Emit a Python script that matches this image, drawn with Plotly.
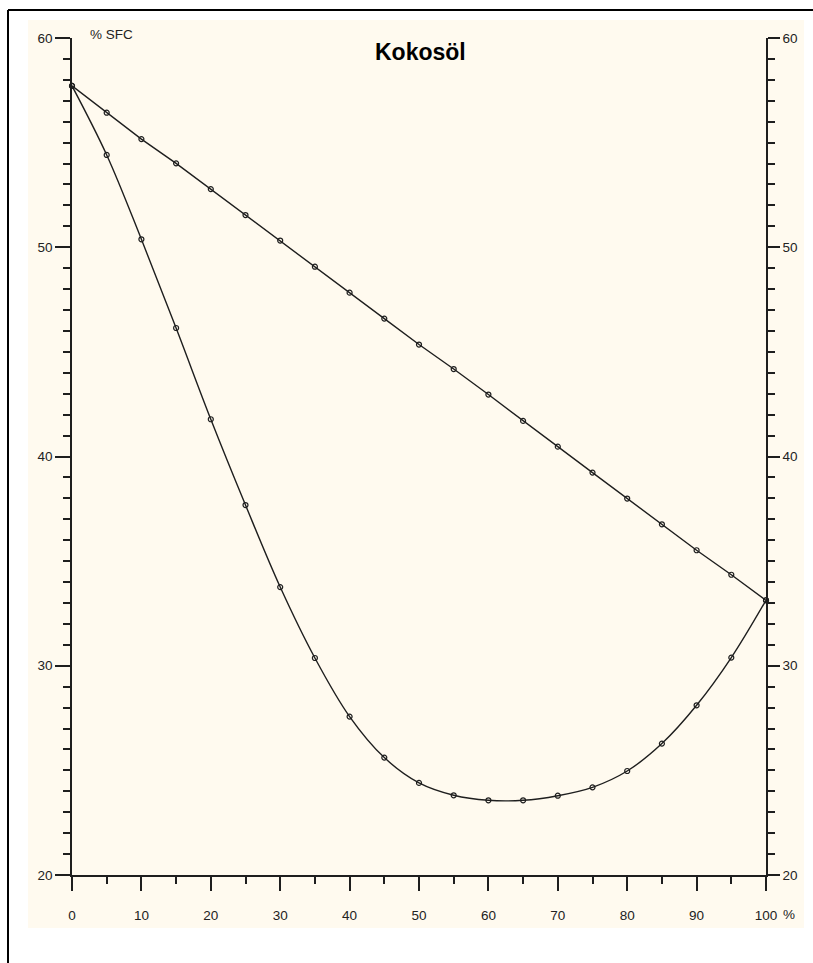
import plotly.graph_objects as go

# ---- data ----
x_values = [0, 5, 10, 15, 20, 25, 30, 35, 40, 45, 50, 55, 60, 65, 70, 75, 80, 85, 90, 95, 100]
upper_sfc = [57.71, 56.43, 55.17, 54.01, 52.78, 51.54, 50.32, 49.07, 47.83, 46.59, 45.35,
             44.18, 42.96, 41.70, 40.47, 39.23, 37.99, 36.76, 35.52, 34.35, 33.13]
lower_sfc = [57.71, 54.41, 50.38, 46.14, 41.78, 37.68, 33.76, 30.37, 27.57, 25.61, 24.40,
             23.81, 23.57, 23.57, 23.79, 24.19, 24.97, 26.28, 28.11, 30.39, 33.13]
x_ticks = [0, 10, 20, 30, 40, 50, 60, 70, 80, 90, 100]
y_ticks = [20, 30, 40, 50, 60]
title_text = "Kokosöl"
y_label = "% SFC"
x_unit = "%"

# ---- geometry ----
W, H = 813, 963
ML, MR, MT, MB = 72, 47, 38, 88
PW, PH = W - ML - MR, H - MT - MB


def px(xp):
    return (xp - ML) / PW


def py(yp):
    return (H - MB - yp) / PH


LINE = "#1e1e1e"
CREAM = "#FFFAEF"
FONT = "Liberation Sans, Arial, sans-serif"

fig = go.Figure()

fig.add_trace(go.Scatter(
    x=x_values, y=upper_sfc, mode="lines+markers",
    line=dict(color=LINE, width=1.4),
    marker=dict(symbol="circle-open", size=5, color=LINE, line=dict(width=1.2)),
    cliponaxis=False, showlegend=False, hoverinfo="x+y"))

fig.add_trace(go.Scatter(
    x=x_values, y=lower_sfc, mode="lines+markers",
    line=dict(color=LINE, width=1.4, shape="spline", smoothing=1.0),
    marker=dict(symbol="circle-open", size=5, color=LINE, line=dict(width=1.2)),
    cliponaxis=False, showlegend=False, hoverinfo="x+y"))

# invisible trace to carry the right-hand axis
fig.add_trace(go.Scatter(
    x=x_values, y=upper_sfc, yaxis="y2", mode="lines",
    line=dict(width=0), opacity=0, showlegend=False, hoverinfo="skip"))

tickfont = dict(family=FONT, size=13.5, color="#222222")

fig.update_layout(
    width=W, height=H,
    margin=dict(l=ML, r=MR, t=MT, b=MB, autoexpand=False),
    paper_bgcolor="white",
    plot_bgcolor=CREAM,
    xaxis=dict(
        range=[0, 100], tickvals=x_ticks, ticktext=[str(v) for v in x_ticks],
        showgrid=False, zeroline=False, showline=True, linecolor=LINE, linewidth=1.6,
        ticks="outside", ticklen=14, tickwidth=1.6, tickcolor=LINE,
        minor=dict(dtick=5, ticks="outside", ticklen=7, tickwidth=1.6, tickcolor=LINE),
        tickfont=tickfont, ticklabelstandoff=13, fixedrange=True),
    yaxis=dict(
        range=[20, 60], tickvals=y_ticks, ticktext=[str(v) for v in y_ticks],
        showgrid=False, zeroline=False, showline=True, linecolor=LINE, linewidth=1.6,
        ticks="outside", ticklen=15, tickwidth=1.6, tickcolor=LINE,
        minor=dict(dtick=1, ticks="outside", ticklen=7, tickwidth=1.6, tickcolor=LINE),
        tickfont=tickfont, fixedrange=True),
    yaxis2=dict(
        range=[20, 60], tickvals=y_ticks, ticktext=[str(v) for v in y_ticks],
        overlaying="y", side="right", anchor="x",
        showgrid=False, zeroline=False, showline=True, linecolor=LINE, linewidth=1.6,
        ticks="outside", ticklen=12, tickwidth=1.6, tickcolor=LINE,
        minor=dict(dtick=1, ticks="outside", ticklen=7, tickwidth=1.6, tickcolor=LINE),
        tickfont=tickfont, ticklabelstandoff=0, fixedrange=True),
)

# cream panel and outer frame
fig.add_shape(type="rect", xref="paper", yref="paper", layer="below",
              x0=px(28), x1=px(804), y0=py(928), y1=py(20),
              fillcolor=CREAM, line=dict(width=0))
fig.add_shape(type="line", xref="paper", yref="paper",
              x0=px(8), x1=px(820), y0=py(10), y1=py(10),
              line=dict(color="black", width=2))
fig.add_shape(type="line", xref="paper", yref="paper",
              x0=px(8), x1=px(8), y0=py(10), y1=py(970),
              line=dict(color="black", width=2))

# texts
fig.add_annotation(text="<b>" + title_text + "</b>", xref="paper", yref="paper",
                   x=px(420), y=py(52), showarrow=False, xanchor="center", yanchor="middle",
                   font=dict(family=FONT, size=23, color="black"))
fig.add_annotation(text=y_label, xref="paper", yref="paper",
                   x=px(88), y=py(34), showarrow=False, xanchor="left", yanchor="middle",
                   font=dict(family=FONT, size=13.5, color="#222222"))
fig.add_annotation(text=x_unit, xref="paper", yref="paper",
                   x=px(789), y=py(914), showarrow=False, xanchor="center", yanchor="middle",
                   font=dict(family=FONT, size=13.5, color="#222222"))

fig.write_html(
    "out.html",
    config={"displayModeBar": False},
    post_script="document.body.style.margin='0';document.body.style.padding='0';"
                "document.body.style.overflow='hidden';"
                "document.documentElement.style.overflow='hidden';")
